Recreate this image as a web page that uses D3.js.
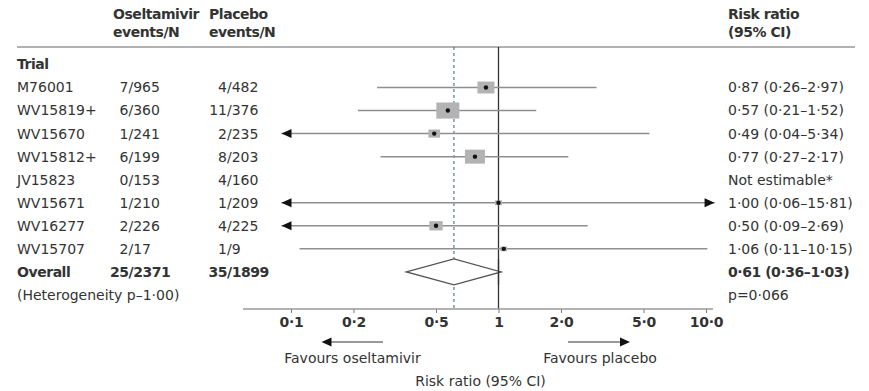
<!DOCTYPE html>
<html>
<head>
<meta charset="utf-8">
<script src="https://cdn.jsdelivr.net/npm/d3@7/dist/d3.min.js"></script>
<style>
  html, body { margin: 0; padding: 0; background: #fff; }
  svg { display: block; }
  text { font-family: "DejaVu Sans", sans-serif; fill: #333; }
  text.b { font-weight: bold; letter-spacing: -0.45px; }
</style>
</head>
<body>
<svg id="chart" width="869" height="391"></svg>
<script>
// Trials of oseltamivir versus placebo
const trials = ["M76001", "WV15819+", "WV15670", "WV15812+", "JV15823", "WV15671", "WV16277", "WV15707"];
const oselEvents = [7, 6, 1, 6, 0, 1, 2, 2];
const oselN = [965, 360, 241, 199, 153, 210, 226, 17];
const placEvents = [4, 11, 2, 8, 4, 1, 4, 1];
const placN = [482, 376, 235, 203, 160, 209, 225, 9];
const riskRatio = [0.87, 0.57, 0.49, 0.77, null, 1.00, 0.50, 1.06];
const ciLow = [0.26, 0.21, 0.04, 0.27, null, 0.06, 0.09, 0.11];
const ciHigh = [2.97, 1.52, 5.34, 2.17, null, 15.81, 2.69, 10.15];
const weights = [17.8, 32.5, 8.4, 24.6, null, 3.0, 10.9, 2.8];

// Pooled estimate
const overallOsel = [25, 2371];
const overallPlac = [35, 1899];
const overallRR = [0.61, 0.36, 1.03];
const heterogeneityText = "(Heterogeneity p–1·00)";
const overallPText = "p=0·066";

// Axis
const tickValues = [0.1, 0.2, 0.5, 1, 2, 5, 10];
const tickLabels = ["0·1", "0·2", "0·5", "1", "2·0", "5·0", "10·0"];
const clipWindow = [0.09, 11];

const svg = d3.select("#chart");
const fmt = v => d3.format(".2f")(v).replace(".", "·");

const x = d3.scaleLog().domain([0.1, 10]).range([291, 706]);
const rowY = i => 87.5 + i * 23.05;
const boxW = d3.scaleSqrt().domain([0, 32.5]).range([0, 23]);

const colName = 17, slashOsel = 128.5, slashPlac = 227, colRR = 728;
const topY = 47, axisY = 309;

// Header
const head = svg.append("g").attr("font-size", 14);
[["Oseltamivir", 113, 14], ["events/N", 113, 32], ["Placebo", 209, 14], ["events/N", 209, 32],
 ["Risk ratio", colRR, 14], ["(95% CI)", colRR, 32]].forEach(([t, hx, hy]) => {
  head.append("text").attr("class", "b").attr("x", hx).attr("y", hy).attr("dy", "0.35em").text(t);
});

svg.append("line").attr("x1", colName).attr("x2", 855).attr("y1", topY).attr("y2", topY)
  .attr("stroke", "#999").attr("stroke-width", 1.5);

svg.append("text").attr("class", "b").attr("x", colName).attr("y", rowY(-1)).attr("dy", "0.35em")
  .attr("font-size", 14).text("Trial");

// Reference lines: no effect and pooled estimate
svg.append("line").attr("x1", x(1)).attr("x2", x(1)).attr("y1", topY).attr("y2", axisY)
  .attr("stroke", "#333").attr("stroke-width", 1.3);
svg.append("line").attr("x1", x(overallRR[0])).attr("x2", x(overallRR[0]))
  .attr("y1", topY).attr("y2", axisY)
  .attr("stroke", "#2f6474").attr("stroke-width", 1).attr("stroke-dasharray", "3,3");

// Table columns
function fraction(g, slashX, a, b, y, bold) {
  g.append("text").attr("class", bold ? "b" : null).attr("x", slashX).attr("y", y).attr("dy", "0.35em")
    .attr("text-anchor", "end").text(a);
  g.append("text").attr("class", bold ? "b" : null).attr("x", slashX).attr("y", y).attr("dy", "0.35em")
    .text("/" + b);
}

const table = svg.append("g").attr("font-size", 14);
trials.forEach((t, i) => {
  const y = rowY(i);
  table.append("text").attr("x", colName).attr("y", y).attr("dy", "0.35em").text(t);
  fraction(table, slashOsel, oselEvents[i], oselN[i], y, false);
  fraction(table, slashPlac, placEvents[i], placN[i], y, false);
  const label = riskRatio[i] == null ? "Not estimable*"
    : `${fmt(riskRatio[i])} (${fmt(ciLow[i])}–${fmt(ciHigh[i])})`;
  table.append("text").attr("x", colRR).attr("y", y).attr("dy", "0.35em").text(label);
});

const yOverall = rowY(trials.length);
table.append("text").attr("class", "b").attr("x", colName).attr("y", yOverall).attr("dy", "0.35em")
  .text("Overall");
fraction(table, slashOsel, overallOsel[0], overallOsel[1], yOverall, true);
fraction(table, slashPlac, overallPlac[0], overallPlac[1], yOverall, true);
table.append("text").attr("class", "b").attr("x", colRR).attr("y", yOverall).attr("dy", "0.35em")
  .text(`${fmt(overallRR[0])} (${fmt(overallRR[1])}–${fmt(overallRR[2])})`);

const yHet = rowY(trials.length + 1);
table.append("text").attr("x", colName).attr("y", yHet).attr("dy", "0.35em").text(heterogeneityText);
table.append("text").attr("x", colRR).attr("y", yHet).attr("dy", "0.35em").text(overallPText);

// Confidence intervals, clipped to the plotting window with arrowheads
const plot = svg.append("g");
function arrowHead(g, tipX, y, dir) {
  const len = 10, half = 4.5;
  g.append("path")
    .attr("d", `M${tipX},${y} L${tipX - dir * len},${y - half} L${tipX - dir * len},${y + half} Z`)
    .attr("fill", "#111");
}

trials.forEach((t, i) => {
  if (riskRatio[i] == null) return;
  const y = rowY(i);
  const lo = Math.max(ciLow[i], clipWindow[0]);
  const hi = Math.min(ciHigh[i], clipWindow[1]);
  plot.append("line").attr("x1", x(lo)).attr("x2", x(hi)).attr("y1", y).attr("y2", y)
    .attr("stroke", "#8f8f8f").attr("stroke-width", 1.5);
  if (ciLow[i] <= clipWindow[0]) arrowHead(plot, x(clipWindow[0]), y, -1);
  if (ciHigh[i] >= clipWindow[1]) arrowHead(plot, x(clipWindow[1]), y, 1);
  const w = boxW(weights[i]), h = w * 0.7;
  plot.append("rect").attr("x", x(riskRatio[i]) - w / 2).attr("y", y - h / 2)
    .attr("width", w).attr("height", h).attr("fill", "#b3b3b3");
  plot.append("circle").attr("cx", x(riskRatio[i])).attr("cy", y).attr("r", 2.2).attr("fill", "#111");
});

// Pooled diamond
const dh = 13;
plot.append("path")
  .attr("d", `M${x(overallRR[1])},${yOverall} L${x(overallRR[0])},${yOverall - dh} ` +
             `L${x(overallRR[2])},${yOverall} L${x(overallRR[0])},${yOverall + dh} Z`)
  .attr("fill", "#fff").attr("stroke", "#555").attr("stroke-width", 1.3);
// keep the no-effect line visible through the diamond
plot.append("line").attr("x1", x(1)).attr("x2", x(1))
  .attr("y1", yOverall - dh).attr("y2", yOverall + dh)
  .attr("stroke", "#333").attr("stroke-width", 1.3);

// Axis
const axis = svg.append("g").attr("transform", `translate(0,${axisY})`)
  .call(d3.axisBottom(x).tickValues(tickValues)
    .tickFormat((d, i) => tickLabels[i]).tickSize(4).tickSizeOuter(0).tickPadding(4));
axis.select(".domain").remove();
axis.selectAll(".tick line").attr("stroke", "#777");
axis.selectAll(".tick text").attr("font-family", "DejaVu Sans, sans-serif")
  .attr("font-size", 14).attr("fill", "#444").attr("font-weight", "bold")
  .attr("letter-spacing", "-0.3px");
svg.append("line").attr("x1", 243).attr("x2", 713).attr("y1", axisY).attr("y2", axisY)
  .attr("stroke", "#999").attr("stroke-width", 1.5);

// Direction arrows
const dirY = 342;
svg.append("line").attr("x1", 383).attr("x2", 328).attr("y1", dirY).attr("y2", dirY)
  .attr("stroke", "#999").attr("stroke-width", 2);
arrowHead(svg, 321.5, dirY, -1);
svg.append("line").attr("x1", 568).attr("x2", 624).attr("y1", dirY).attr("y2", dirY)
  .attr("stroke", "#999").attr("stroke-width", 2);
arrowHead(svg, 630, dirY, 1);

const foot = svg.append("g").attr("font-size", 14).attr("text-anchor", "middle");
foot.append("text").attr("x", 352.5).attr("y", 358).attr("dy", "0.35em").text("Favours oseltamivir");
foot.append("text").attr("x", 600).attr("y", 358).attr("dy", "0.35em").text("Favours placebo");
foot.append("text").attr("x", 480.5).attr("y", 381.5).attr("dy", "0.35em").text("Risk ratio (95% CI)");
</script>
</body>
</html>
